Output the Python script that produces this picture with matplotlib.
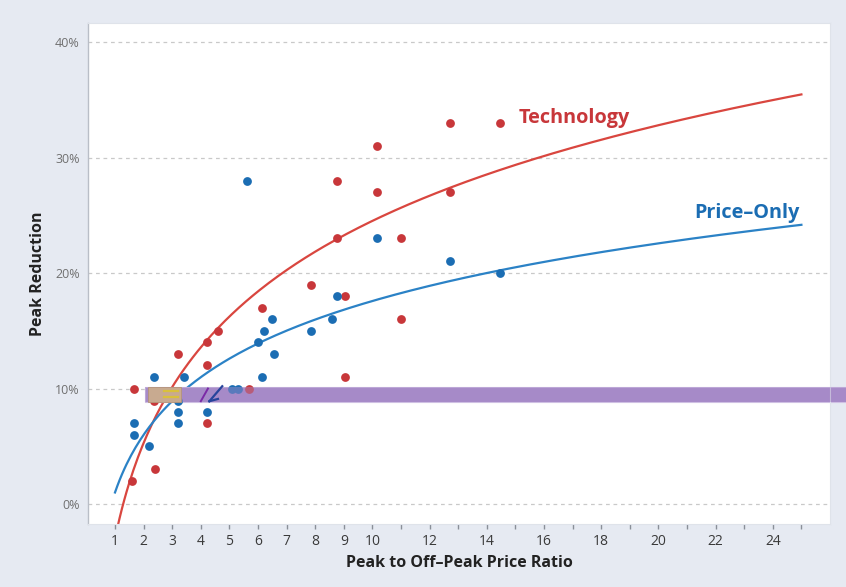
import numpy as np
import matplotlib
matplotlib.use("Agg")
import matplotlib.pyplot as plt
from matplotlib.patches import Rectangle

plt.rcParams['font.family'] = ['Open Sans', 'DejaVu Sans']

# ---- data (peak/off-peak ratio, peak reduction %) ----
tech_x = [1.6, 1.65, 2.35, 2.4, 3.2, 4.2, 4.2, 4.2, 4.6, 5.7, 6.15, 7.85,
          8.75, 8.75, 9.05, 9.05, 10.15, 10.15, 11.0, 11.0, 12.7, 12.7, 14.45]
tech_y = [2, 10, 8.9, 3, 13, 7, 12, 14, 15, 10, 17, 19,
          28, 23, 18, 11, 31, 27, 23, 16, 33, 27, 33]

price_x = [1.65, 1.65, 2.2, 2.35, 3.2, 3.2, 3.2, 3.4, 4.2, 5.1, 5.3, 5.6,
           6.0, 6.15, 6.2, 6.5, 6.55, 7.85, 8.6, 8.75, 10.15, 12.7, 14.45]
price_y = [6, 7, 5, 11, 7, 8, 8.9, 11, 8, 10, 10, 28,
           14, 11, 15, 16, 13, 15, 16, 18, 23, 21, 20]

# logarithmic trend lines: y = a + b*ln(x)
tech_fit = (-3.0, 11.95)
price_fit = (1.0, 7.2)
fit_range = (1.0, 25.0)

x_ticks = list(range(1, 26))
x_labels = [str(v) if (v <= 10 or (v % 2 == 0 and v < 25)) else '' for v in x_ticks]
y_ticks = [0, 10, 20, 30, 40]
y_labels = ['0%', '10%', '20%', '30%', '40%']

# ---- styling ----
RED = '#c8373a'
RED_LINE = '#d9463f'
BLUE = '#1b6db3'
BLUE_LINE = '#2b82c6'
BG = '#e6eaf2'
PURPLE = '#a68ac8'

fig = plt.figure(figsize=(8.46, 5.87), dpi=100, facecolor=BG)
ax = fig.add_axes([88/846, 1-524/587, (830-88)/846, (524-23)/587])
ax.set_facecolor('white')
ax.set_xlim(0.056, 26.0)
ax.set_ylim(-1.73, 41.65)

for sp in ['top', 'right', 'bottom']:
    ax.spines[sp].set_color('#dfe3ea')
    ax.spines[sp].set_linewidth(0.8)
ax.spines['left'].set_color('#b9bec7')
ax.spines['left'].set_linewidth(1.0)

ax.set_yticks(y_ticks)
ax.set_yticklabels(y_labels, fontsize=9, color='#707070')
ax.tick_params(axis='y', length=0, pad=6)
ax.set_xticks(x_ticks)
ax.set_xticklabels(x_labels, fontsize=10, color='#3a3a3a')
ax.tick_params(axis='x', length=3.5, width=1.0, color='#8a8f98', pad=4, direction='out')

for yv in y_ticks:
    ax.axhline(yv, color='#c9c9c9', lw=0.9, ls=(0, (3, 3)), zorder=0.5)

# trend lines
xs = np.linspace(fit_range[0], fit_range[1], 300)
ax.plot(xs, tech_fit[0] + tech_fit[1] * np.log(xs), color=RED_LINE, lw=1.6, zorder=1.5)
ax.plot(xs, price_fit[0] + price_fit[1] * np.log(xs), color=BLUE_LINE, lw=1.6, zorder=1.5)

# purple overlay band (extends past the plot box to the image edge)
band = Rectangle((0.077, 8.8), 1.1, 1.35, transform=ax.get_yaxis_transform(),
                 facecolor=PURPLE, edgecolor='#cfc0e3', lw=0.8, zorder=2, clip_on=False)
ax.add_patch(band)

ax.scatter(tech_x, tech_y, s=40, color=RED, zorder=3, linewidths=0)
ax.scatter(price_x, price_y, s=40, color=BLUE, zorder=3, linewidths=0)

band2 = Rectangle((0.077, 8.8), 1.1, 1.35, transform=ax.get_yaxis_transform(),
                  facecolor=PURPLE, edgecolor='none', alpha=0.45, zorder=4, clip_on=False)
ax.add_patch(band2)

# small artefacts inside the band
ax.add_patch(Rectangle((2.15, 8.8), 1.15, 1.35, facecolor='#c8aa90', edgecolor='#b59478',
                       lw=0.6, zorder=5))
ax.plot([2.7, 3.2], [9.75, 9.75], color='#d9c03c', lw=1.6, zorder=6)
ax.plot([2.7, 3.2], [9.25, 9.25], color='#d9c03c', lw=1.6, zorder=6)
ax.plot([4.0, 4.25], [8.9, 10.0], color='#7b2aa6', lw=1.4, zorder=6)
ax.plot([4.3, 4.75], [8.9, 10.2], color='#27449c', lw=1.6, zorder=6)
ax.plot([4.3, 4.6], [8.9, 9.1], color='#27449c', lw=1.6, zorder=6)

# series labels
ax.text(15.1, 33.4, 'Technology', color=RED, fontsize=14.3, fontweight='bold',
        va='center', ha='left')
ax.text(21.25, 25.2, 'Price\u2013Only', color=BLUE, fontsize=14.3, fontweight='bold',
        va='center', ha='left')

ax.set_xlabel('Peak to Off\u2013Peak Price Ratio', fontsize=11.5, fontweight='bold',
              color='#222222')
ax.xaxis.set_label_coords(0.5, -0.062)
ax.set_ylabel('Peak Reduction', fontsize=11.5, fontweight='bold', color='#222222')
ax.yaxis.set_label_coords(-0.057, 0.5)

fig.savefig('out.png', dpi=100, facecolor=BG)
